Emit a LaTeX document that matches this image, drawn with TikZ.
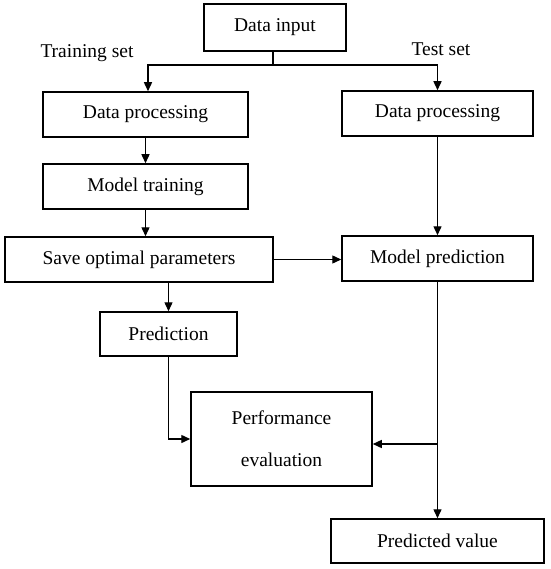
\documentclass[tikz,border=0pt]{standalone}
\usepackage{fontspec}
\setmainfont{Liberation Serif}
\usetikzlibrary{arrows.meta}
\begin{document}
\begin{tikzpicture}[x=1pt,y=-1pt,
  box/.style={draw, line width=1.5pt, inner sep=0pt, align=center, font=\fontsize{19.5}{30}\selectfont},
  lab/.style={inner sep=0pt, font=\fontsize{19.5}{24}\selectfont},
  conn/.style={line width=1.4pt},
  arr/.style={conn, -{Triangle[length=9pt,width=8pt]}}]
\useasboundingbox (0,0) rectangle (550,569);
\fill[white] (0,0) rectangle (550,569);
\node[box, minimum width=142pt, minimum height=47pt] (di) at (275,27.5) {Data input};
\node[lab] (train) at (87,53) {Training set};
\node[lab] (test) at (441,49) {Test set};
\node[box, minimum width=205pt, minimum height=45pt] (ldp) at (145.5,114.5) {Data processing};
\node[box, minimum width=191pt, minimum height=45pt] (rdp) at (437.5,113.5) {Data processing};
\node[box, minimum width=205pt, minimum height=45pt] (mt) at (145.5,186.5) {Model training};
\node[box, minimum width=268pt, minimum height=45pt] (sop) at (139,259.5) {Save optimal parameters};
\node[box, minimum width=191pt, minimum height=45pt] (mp) at (437.5,258.5) {Model prediction};
\node[box, minimum width=137pt, minimum height=44pt] (pred) at (168.5,334) {Prediction};
\node[box, minimum width=181pt, minimum height=94pt] (pe) at (281.5,439) {Performance\\[12pt]evaluation};
\node[box, minimum width=213pt, minimum height=44pt] (pv) at (437.5,541) {Predicted value};
\coordinate (split) at (273,65);
\coordinate (lsplit) at (148,65);
\draw[conn] (di.south -| split) -- (split);
\draw[arr] (split) -- (lsplit) -- (lsplit |- ldp.north);
\draw[arr] (split) -| (rdp.north);
\draw[arr] (ldp.south) -- (mt.north);
\draw[arr] (mt.south) -- (mt.south |- sop.north);
\draw[arr] (sop.east) -- (mp.west |- sop.east);
\draw[arr] (pred.north |- sop.south) -- (pred.north);
\draw[arr] (pred.south) |- (pe.west);
\draw[arr] (rdp.south) -- (mp.north);
\draw[arr] (mp.south) -- (pv.north);
\coordinate (br) at (437.5,444);
\draw[arr] (br) -- (pe.east |- br);
\end{tikzpicture}
\end{document}
